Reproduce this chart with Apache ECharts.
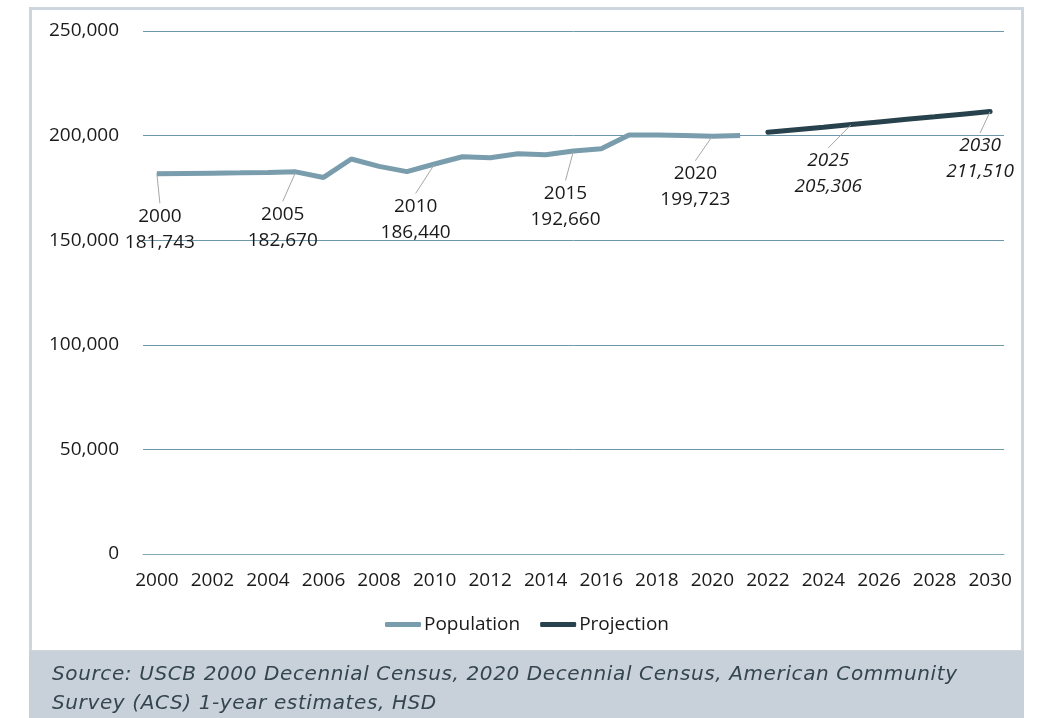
<!DOCTYPE html>
<html>
<head>
<meta charset="utf-8">
<script src="https://cdn.jsdelivr.net/npm/echarts@6/dist/echarts.min.js"></script>
<style>
html,body{margin:0;padding:0;background:#fff;}
#chart{width:1039px;height:718px;position:absolute;left:0;top:0;}
#src{position:absolute;left:52px;top:659px;font-family:'DejaVu Sans';font-style:italic;font-size:20px;line-height:29px;color:#34454f;}
#src div{white-space:pre;}
</style>
</head>
<body>
<div id="chart"></div>
<div id="src"></div>
<script>
const years = [];
for (let y = 2000; y <= 2030; y++) years.push(String(y));

const populationValues = [181743, 181900, 182050, 182200, 182400, 182670, 180000, 188800, 185300, 182800, 186440, 189900, 189400, 191300, 190800, 192660, 193700, 200300, 200300, 200100, 199723, 200100];
const projectionYears = ['2022','2023','2024','2025','2026','2027','2028','2029','2030'];
const projectionValues = [201600, 202800, 204000, 205306, 206550, 207800, 209000, 210250, 211510];
const labelledYears = ['2000','2005','2010','2015','2020','2025','2030'];
const yTicks = [0, 50000, 100000, 150000, 200000, 250000];
const legendNames = ['Population', 'Projection'];
const sourceLines = ['Source: USCB 2000 Decennial Census, 2020 Decennial Census, American Community', 'Survey (ACS) 1-year estimates, HSD'];

// footer text, spaced to the reference line width
(function(){
  const box = document.getElementById('src');
  sourceLines.forEach(function(t){ const d = document.createElement('div'); d.textContent = t; box.appendChild(d); });
  const span = document.createElement('span'); span.textContent = sourceLines[0]; span.style.whiteSpace = 'pre';
  box.appendChild(span);
  const w = span.getBoundingClientRect().width;
  box.removeChild(span);
  const ls = Math.max(0, (906 - w) / sourceLines[0].length);
  box.style.letterSpacing = ls.toFixed(2) + 'px';
})();

// label offsets (style only)
const labelShift = {
  '2000': [3, 29], '2005': [-13, 29], '2010': [-19, 29], '2015': [-8, 29],
  '2020': [-17, 24], '2025': [-23, 23], '2030': [-10, 21]
};

function fmt(v){ return v.toLocaleString('en-US'); }

function buildData(yrs, vals, italic) {
  return years.map(function(yr){
    const i = yrs.indexOf(yr);
    if (i < 0) return '-';
    const show = labelledYears.indexOf(yr) >= 0;
    return {
      value: vals[i],
      label: { show: show, fontStyle: italic ? 'italic' : 'normal' },
      labelLine: { show: show }
    };
  });
}

const popYears = years.slice(0, populationValues.length);
const chart = echarts.init(document.getElementById('chart'), null, {renderer:'canvas'});

const FS = 19;
const labelCommon = {
  position: 'bottom',
  distance: 0,
  color: '#1a1a1a',
  fontSize: FS,
  lineHeight: 26,
  fontFamily: 'Open Sans',
  align: 'center',
  formatter: function(p){ return years[p.dataIndex] + '\n' + fmt(p.value); }
};
const labelLineCommon = {
  show: false,
  lineStyle: { color: '#a6a6a6', width: 1 }
};
function layoutFn(p){
  const s = labelShift[years[p.dataIndex]];
  if (!s) return {};
  return { dx: s[0], dy: s[1] };
}

chart.setOption({
  animation: false,
  textStyle: { fontFamily: 'Open Sans' },
  graphic: [
    { type: 'rect', shape: { x: 30.5, y: 8.5, width: 992, height: 643 }, style: { fill: 'none', stroke: '#cdd6df', lineWidth: 3 }, z: -10 },
    { type: 'rect', shape: { x: 29, y: 651, width: 995, height: 67 }, style: { fill: '#c8d0d9' }, z: -10 }
  ],
  grid: { left: 143, right: 35, top: 31, bottom: 164, containLabel: false },
  legend: {
    bottom: 79,
    left: 380,
    icon: 'roundRect',
    itemWidth: 36,
    itemHeight: 5,
    itemGap: 20,
    textStyle: { fontSize: FS, color: '#1a1a1a', fontFamily: 'Open Sans', padding: [0, 0, 0, -2] },
    data: legendNames
  },
  xAxis: {
    type: 'category',
    data: years,
    boundaryGap: true,
    axisLine: { show: true, lineStyle: { color: '#86a9b8', width: 1 } },
    axisTick: { show: false },
    axisLabel: { interval: 1, color: '#1a1a1a', fontSize: FS, margin: 17, fontFamily: 'Open Sans' },
    splitLine: { show: false }
  },
  yAxis: {
    type: 'value',
    min: yTicks[0],
    max: yTicks[yTicks.length - 1],
    interval: 50000,
    axisLine: { show: false },
    axisTick: { show: false },
    axisLabel: { color: '#1a1a1a', fontSize: FS, margin: 24, fontFamily: 'Open Sans', formatter: function(v){ return fmt(v); } },
    splitLine: { show: true, lineStyle: { color: '#6f97aa', width: 1 } }
  },
  series: [
    {
      name: legendNames[0],
      type: 'line',
      data: buildData(popYears, populationValues, false),
      symbol: 'circle',
      symbolSize: 1,
      showSymbol: true,
      itemStyle: { color: '#7a9dae' },
      lineStyle: { color: '#7a9dae', width: 5 },
      label: Object.assign({ show: false }, labelCommon),
      labelLine: labelLineCommon,
      labelLayout: layoutFn,
      emphasis: { disabled: true }
    },
    {
      name: legendNames[1],
      type: 'line',
      data: buildData(projectionYears, projectionValues, true),
      symbol: 'circle',
      symbolSize: 1,
      showSymbol: true,
      itemStyle: { color: '#28424d' },
      lineStyle: { color: '#28424d', width: 5, cap: 'round' },
      label: Object.assign({ show: false }, labelCommon),
      labelLine: labelLineCommon,
      labelLayout: layoutFn,
      emphasis: { disabled: true }
    }
  ]
});
</script>
</body>
</html>
